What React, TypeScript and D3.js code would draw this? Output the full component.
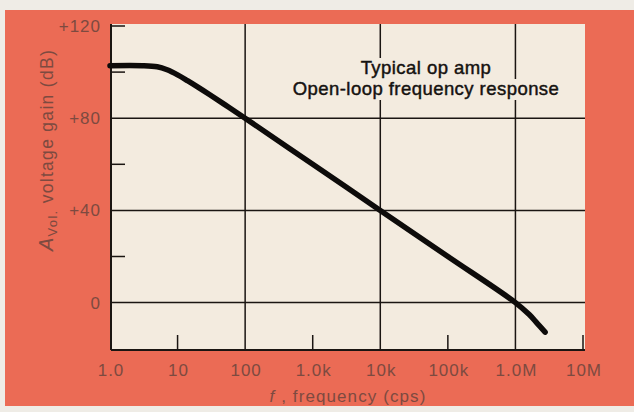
import React, { useEffect, useRef } from "react";
import * as d3 from "d3";

const freqs = [1, 3, 5, 7, 10, 14, 20, 30, 50, 100, 1000, 10000, 100000, 1000000, 1600000, 2100000, 2750000];
const gains = [102.8, 102.8, 102.3, 101, 98.8, 96.3, 93.5, 90.2, 85.9, 80, 60, 40, 20, 0, -5.2, -9, -12.8];
const xTickValues = [1, 10, 100, 1000, 10000, 100000, 1000000, 10000000];
const xTickLabels = ["1.0", "10", "100", "1.0k", "10k", "100k", "1.0M", "10M"];
const xGridValues = [100, 10000, 1000000];
const xShortTicks = [10, 1000, 100000, 10000000];
const yTickValues = [120, 80, 40, 0];
const yTickLabels = ["+120", "+80", "+40", "0"];
const yGridValues = [80, 40, 0];
const yShortTicks = [120, 100, 60, 20];
const titleLines = ["Typical op amp", "Open-loop frequency response"];

const W = 634, H = 412;
const ORANGE = "#eb6b55";
const CREAM = "#f3ebdf";
const LABEL = "#7d4a40";

export default function App() {
  const ref = useRef<SVGSVGElement>(null);
  useEffect(() => {
    const svg = d3.select(ref.current);
    svg.selectAll("*").remove();
    const L = 111, R = 585, T = 24, B = 350;
    const x = d3.scaleLog().domain([1, 1e7]).range([L - 1, R - 2]);
    const y = d3.scaleLinear().domain([-21, 120]).range([B + 1, T + 2]);

    svg.append("rect").attr("x", 0).attr("y", 0).attr("width", W).attr("height", H).attr("fill", "#efece6");
    svg.append("rect").attr("x", 5).attr("y", 10).attr("width", W - 5).attr("height", 396).attr("fill", ORANGE);
    svg.append("rect").attr("x", L).attr("y", T).attr("width", R - L).attr("height", B - T).attr("fill", CREAM);

    const g = svg.append("g").attr("stroke", "#1a1512").attr("stroke-width", 1.5);
    xGridValues.forEach(v => g.append("line").attr("x1", x(v)).attr("x2", x(v)).attr("y1", T).attr("y2", B));
    yGridValues.forEach(v => g.append("line").attr("x1", L).attr("x2", R).attr("y1", y(v)).attr("y2", y(v)));
    xShortTicks.forEach(v => g.append("line").attr("x1", x(v)).attr("x2", x(v)).attr("y1", B - 15).attr("y2", B));
    yShortTicks.forEach(v => g.append("line").attr("x1", L).attr("x2", L + 14).attr("y1", y(v)).attr("y2", y(v)));
    g.append("line").attr("x1", L).attr("x2", L).attr("y1", T).attr("y2", B).attr("stroke-width", 2);
    g.append("line").attr("x1", L).attr("x2", R).attr("y1", B).attr("y2", B).attr("stroke-width", 2);

    // title with masks
    const maskG = svg.append("g");
    const tg = svg.append("g");
    const ys = [74, 95];
    titleLines.forEach((t, i) => {
      const txt = tg.append("text").attr("x", 426).attr("y", ys[i]).attr("text-anchor", "middle")
        .attr("font-family", "Liberation Sans, Arial, sans-serif").attr("font-size", 18.5).attr("letter-spacing", 0.45)
        .attr("fill", "#151210").attr("stroke", "#151210").attr("stroke-width", 0.45).text(t);
      const bb = (txt.node() as SVGTextElement).getBBox();
      maskG.append("rect").attr("x", bb.x - 3).attr("y", bb.y + 1).attr("width", bb.width + 6).attr("height", bb.height).attr("fill", CREAM);
    });

    // curve
    const pts = freqs.map((f, i) => [f, gains[i]] as [number, number]);
    const line = d3.line<[number, number]>().x(d => x(d[0])).y(d => y(d[1])).curve(d3.curveCatmullRom.alpha(0.5));
    svg.append("path").attr("d", line(pts)).attr("fill", "none").attr("stroke", "#0d0b0a").attr("stroke-width", 5.5).attr("stroke-linecap", "round");

    // tick labels
    const lab = svg.append("g").attr("font-family", "Liberation Sans, Arial, sans-serif").attr("font-size", 17).attr("fill", LABEL).attr("letter-spacing", 1);
    xTickValues.forEach((v, i) => lab.append("text").attr("x", x(v) + 1).attr("y", 376).attr("text-anchor", "middle").text(xTickLabels[i]));
    yTickValues.forEach((v, i) => lab.append("text").attr("x", 101).attr("y", y(v) + 6).attr("text-anchor", "end").text(yTickLabels[i]));

    // x axis title
    const xt = lab.append("text").attr("x", 348).attr("y", 402).attr("text-anchor", "middle").attr("letter-spacing", 1.1);
    xt.append("tspan").attr("font-style", "italic").text("f");
    xt.append("tspan").text(" , frequency  (cps)");

    // y axis title
    const yt = lab.append("text").attr("transform", "translate(53,150) rotate(-90)").attr("text-anchor", "middle").attr("letter-spacing", 1.3);
    yt.append("tspan").attr("font-style", "italic").attr("font-size", 20).text("A");
    yt.append("tspan").attr("font-size", 13).attr("dy", 4).text("Vol.");
    yt.append("tspan").attr("dy", -4).attr("font-size", 17.5).text(" voltage gain  (dB)");
  }, []);
  return <svg ref={ref} width={W} height={H} style={{ display: "block", position: "absolute", left: 0, top: 0 }} />;
}
